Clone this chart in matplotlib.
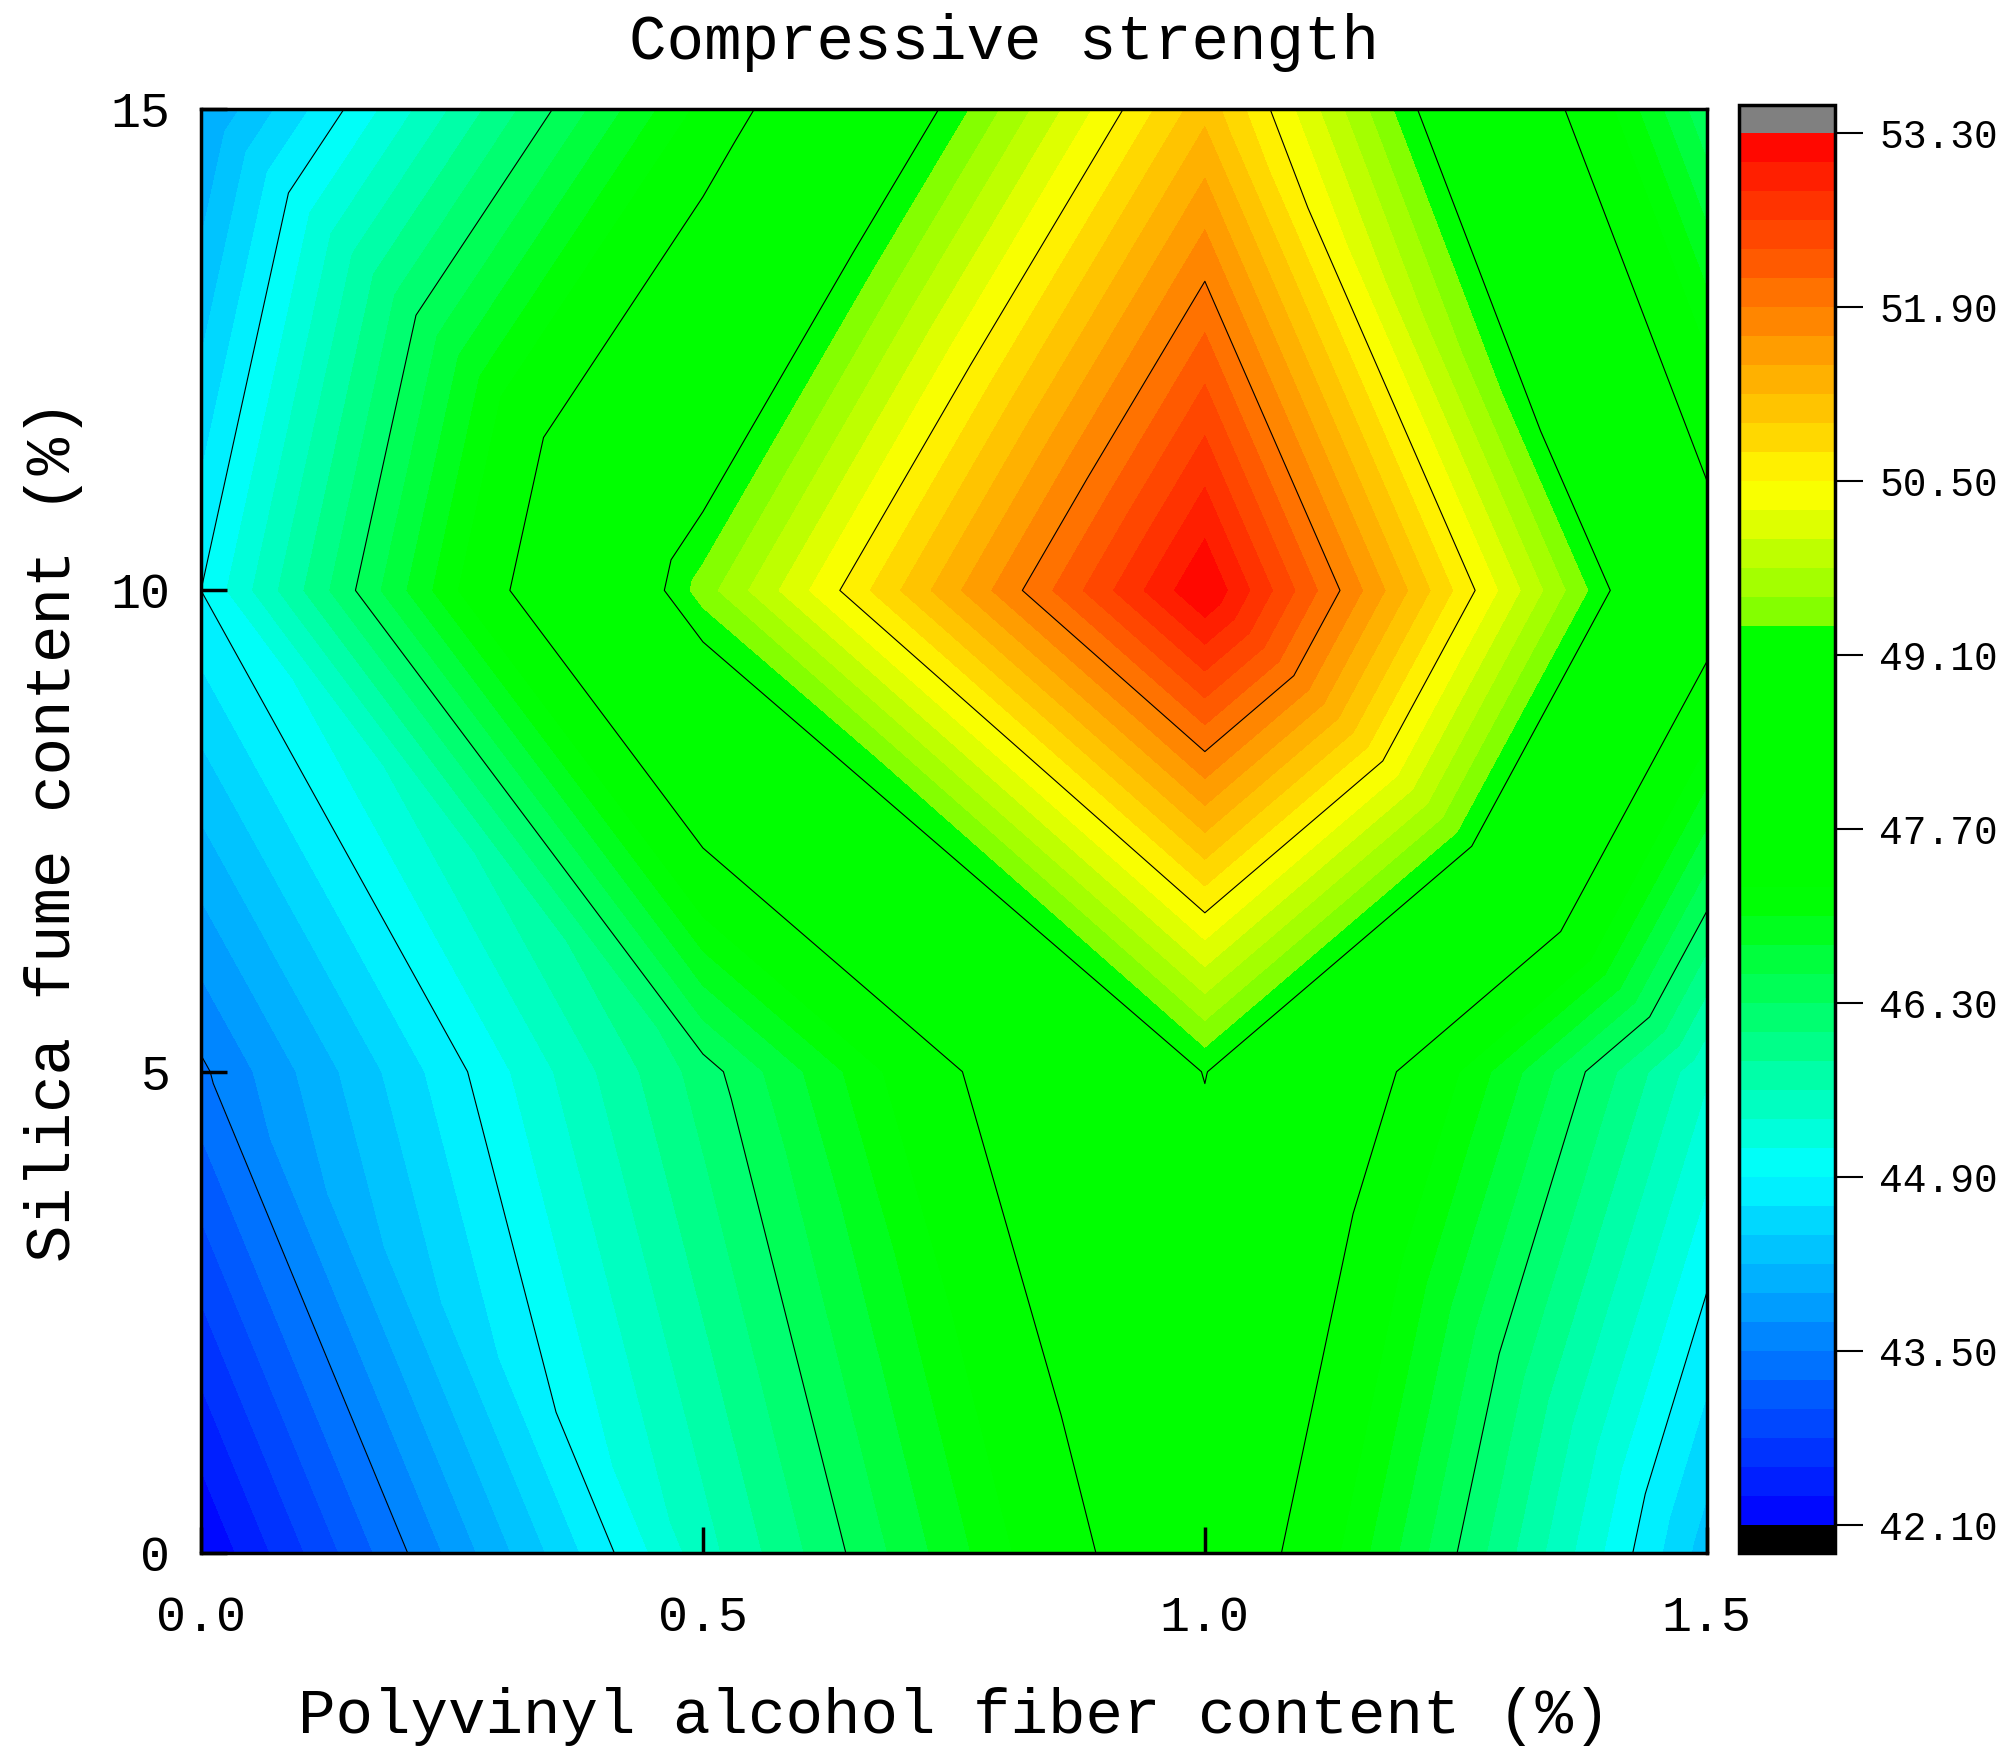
import numpy as np
import matplotlib
matplotlib.use('Agg')
from matplotlib import pyplot as plt
import matplotlib.tri as mtri
from matplotlib.colors import LinearSegmentedColormap, Normalize

# measured grid: PVA fiber content (x) vs silica fume content (y)
pva_content = [0.0, 0.5, 1.0, 1.5]
silica_content = [0, 5, 10, 15]

# compressive strength, one row per silica fume content
strength_sf0 = [42.10, 45.50, 48.31, 44.31]
strength_sf5 = [43.45, 46.18, 49.12, 45.40]
strength_sf10 = [44.90, 49.45, 53.30, 48.10]
strength_sf15 = [43.94, 47.31, 51.12, 46.35]

cbar_ticks = [42.10, 43.50, 44.90, 46.30, 47.70, 49.10, 50.50, 51.90, 53.30]
x_ticks = [0.0, 0.5, 1.0, 1.5]
y_ticks = [0, 5, 10, 15]

title = 'Compressive strength'
x_label = 'Polyvinyl alcohol fiber content (%)'
y_label = 'Silica fume content (%)'

plt.rcParams['font.family'] = ['Liberation Mono', 'DejaVu Sans']

# grid nodes and triangles (diagonal from upper-left to lower-right of each cell)
z = np.array([strength_sf0, strength_sf5, strength_sf10, strength_sf15])
xx, yy = np.meshgrid(pva_content, silica_content)
nx = len(pva_content)
triangles = []
for j in range(len(silica_content) - 1):
    for i in range(nx - 1):
        a = j * nx + i
        b = a + 1
        c = a + nx
        d = c + 1
        triangles.append([a, b, c])
        triangles.append([b, d, c])
tri = mtri.Triangulation(xx.ravel(), yy.ravel(), triangles)

vmin, vmax = cbar_ticks[0], cbar_ticks[-1]
fill_levels = np.linspace(vmin, vmax, 49)
line_levels = cbar_ticks[1:-1]

# Origin-like colour map with the flat green plateau
cmap_nodes = [(42.10, '#0000ff'), (44.95, '#00ffff'), (47.15, '#00ff00'),
              (49.33, '#00ff00'), (49.34, '#78ff00'), (50.45, '#ffff00'),
              (53.30, '#ff0000')]
cmap = LinearSegmentedColormap.from_list(
    'origin', [((v - vmin) / (vmax - vmin), c) for v, c in cmap_nodes])
cmap.set_over('#808080')
cmap.set_under('#000000')
norm = Normalize(vmin=vmin, vmax=vmax)

fig = plt.figure(figsize=(20.08, 17.62), dpi=100)
ax = fig.add_axes([0.1001, 0.1186, 0.7499, 0.8195])
cax = fig.add_axes([0.866, 0.1186, 0.0478, 0.8218])

cf = ax.tricontourf(tri, z.ravel(), levels=fill_levels, cmap=cmap, norm=norm, extend='both')
ax.tricontour(tri, z.ravel(), levels=line_levels, colors='black', linewidths=0.8)

ax.set_xlim(0, 1.5)
ax.set_ylim(0, 15)
ax.set_xticks(x_ticks)
ax.set_xticklabels([f'{t:.1f}' for t in x_ticks])
ax.set_yticks(y_ticks)
ax.tick_params(direction='in', length=19, width=2.5, labelsize=36, top=False, right=False)
ax.tick_params(axis='x', pad=30)
ax.tick_params(axis='y', pad=22)
for spine in ax.spines.values():
    spine.set_linewidth(2.5)

ax.set_xlabel(x_label, fontsize=45, va='center')
ax.set_ylabel(y_label, fontsize=45, va='center')
ax.xaxis.set_label_coords(0.5, -0.113)
ax.yaxis.set_label_coords(-0.098, 0.5)

fig.text(0.5, 0.976, title, fontsize=45, ha='center', va='center')

cb = fig.colorbar(cf, cax=cax, ticks=cbar_ticks, extendfrac=0.02, extendrect=True, drawedges=False)
cb.ax.set_yticklabels([f'{t:.2f}' for t in cbar_ticks])
cb.ax.tick_params(direction='out', length=20, width=1.5, labelsize=28.5, pad=12)
cb.outline.set_linewidth(2.5)
cb.ax.minorticks_off()

plt.savefig('out.png', dpi=100)
plt.close()
